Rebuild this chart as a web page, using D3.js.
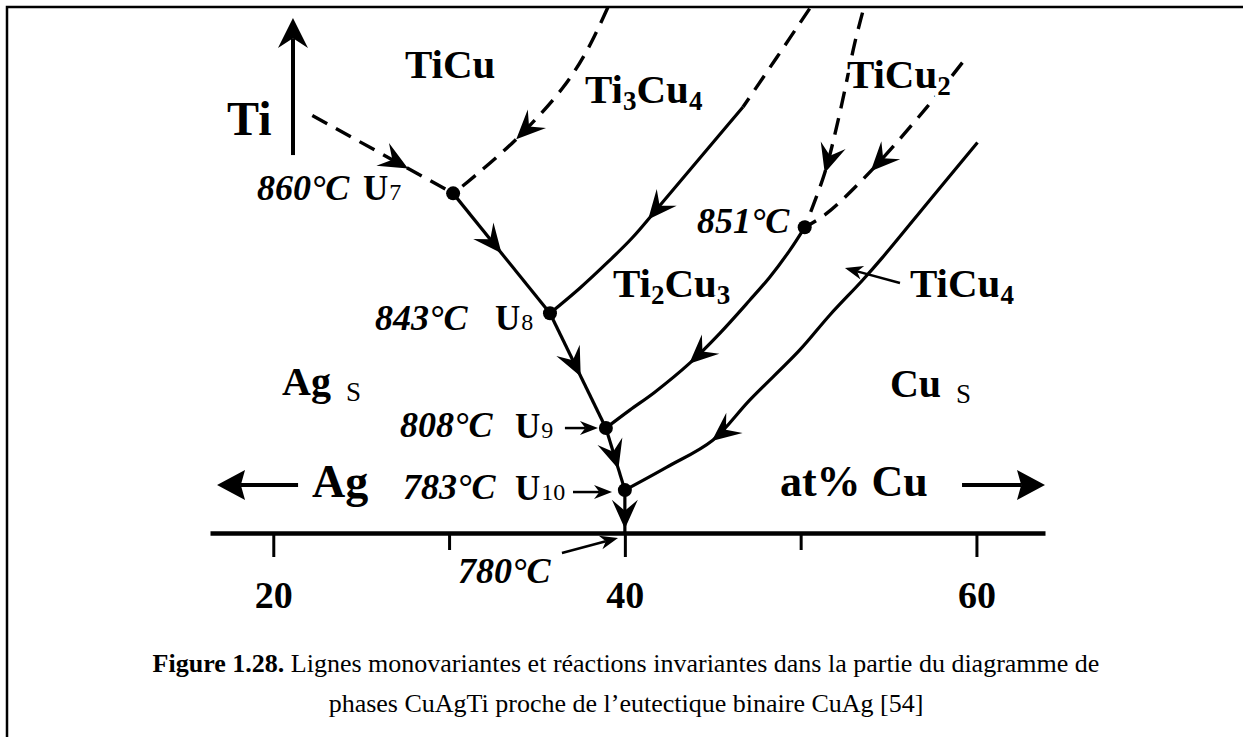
<!DOCTYPE html>
<html lang="fr">
<head>
<meta charset="UTF-8">
<title>Lignes monovariantes CuAgTi</title>
<script src="https://d3js.org/d3.v7.min.js"></script>
<style>
  body { margin: 0; background: #fff; }
  svg { display: block; font-family: "Liberation Serif", "Times New Roman", serif; }
  text { fill: #000; }
</style>
</head>
<body>
<svg id="chart" width="1243" height="737"></svg>
<script>
// x = at% Cu, y = height towards Ti (same units as x)
const cuTicks = [20, 30, 40, 50, 60];
const cuTickLabels = ["20", "", "40", "", "60"];

// invariant reactions U7..U10
const invNames = ["U7", "U8", "U9", "U10"];
const invTemps = ["860°C", "843°C", "808°C", "783°C"];
const invCu = [30.23, 35.74, 38.92, 40.0];
const invTi = [19.32, 12.50, 5.97, 2.44];
const eutectic = [40.0, 0];           // binary CuAg eutectic, 780°C
const point851 = [50.23, 17.39];

// monovariant lines, [at% Cu, Ti]
const lineTiTiCu = [[22.22, 23.75], [30.23, 19.32]];
const lineTiCuTi3Cu4 = [[39.03, 29.89], [37.84, 27.44], [36.48, 25.34], [33.86, 22.44], [31.02, 19.94], [30.23, 19.32]];
const lineTi3Cu4Ti2Cu3Top = [[50.51, 29.83], [48.64, 27.05], [46.72, 24.23]];
const lineTi3Cu4Ti2Cu3 = [[46.72, 24.23], [44.27, 21.33], [42.11, 18.77], [40.41, 16.78], [39.04, 15.42], [37.45, 13.94], [35.74, 12.50]];
const lineTiCu2Left = [[53.52, 29.60], [53.07, 27.84], [52.22, 23.86], [51.36, 20.45], [50.23, 17.39]];
const lineTiCu2Right = [[59.20, 26.76], [57.16, 24.20], [54.03, 20.63], [51.48, 18.18], [50.23, 17.39]];
const line851U9 = [[50.23, 17.39], [49.38, 16.08], [48.24, 14.55], [47.10, 13.24], [45.40, 11.36], [43.69, 9.66], [41.70, 8.01], [40.28, 6.99], [38.92, 5.97]];
const lineTiCu4 = [[60.06, 22.22], [57.33, 18.92], [54.66, 15.68], [53.52, 14.38], [51.65, 12.39], [49.94, 10.40], [47.10, 7.56], [45.0, 5.28], [42.39, 3.75], [40.0, 2.44]];

// labels
const phaseNames = ["TiCu", "Ti3Cu4", "TiCu2", "Ti2Cu3", "TiCu4"];
const phaseCu = [27.49, 37.73, 52.63, 39.32, 56.22];
const phaseTi = [25.88, 24.46, 25.31, 13.42, 13.42];
const ssNames = ["Ag", "Cu"];
const ssCu = [20.50, 55.08];
const ssTi = [7.85, 7.74];
const tempCu = [19.07, 25.79, 27.21, 27.38];
const tempTi = [18.94, 11.55, 5.46, 1.93];
const uCu = [25.10, 32.61, 33.75, 33.75];
const uTi = [18.94, 11.55, 5.40, 1.88];

const W = 1243, H = 737;
const svg = d3.select("#chart");

const x = d3.scaleLinear().domain([16.4, 63.9]).range([210, 1045]);
const k = 835 / 47.5;
const y = d3.scaleLinear().domain([0, 30]).range([533, 533 - 30 * k]);

// frame
svg.append("path")
  .attr("d", `M${W + 5},7 H7 V${H + 5}`)
  .attr("fill", "none").attr("stroke", "#000").attr("stroke-width", 2.5);

const marks = svg.append("g");

function stealth(len, wid, notch) {
  return `M0,0 L${-len},${-wid / 2} L${-len * notch},0 L${-len},${wid / 2} Z`;
}

function headAt(px, py, ang, len, wid, notch) {
  marks.append("path")
    .attr("d", stealth(len, wid, notch))
    .attr("transform", `translate(${px},${py}) rotate(${ang})`)
    .attr("fill", "#000");
}

const line = d3.line().x(d => x(d[0])).y(d => y(d[1])).curve(d3.curveCatmullRom.alpha(0.5));

function drawLine(pts, dashed, arrowT) {
  const p = marks.append("path")
    .attr("d", line(pts))
    .attr("fill", "none")
    .attr("stroke", "#000")
    .attr("stroke-width", dashed ? 3.4 : 3.2)
    .attr("stroke-dasharray", dashed ? "17,10" : null);
  if (arrowT != null) {
    const node = p.node();
    const L = node.getTotalLength();
    const a = node.getPointAtLength(arrowT * L);
    const b = node.getPointAtLength(Math.max(0, arrowT * L - 2));
    const ang = Math.atan2(a.y - b.y, a.x - b.x) * 180 / Math.PI;
    headAt(a.x, a.y, ang, 29, 26, 0.62);
  }
}

function straightArrow(c0, t0, c1, t1, sw, len, wid, notch) {
  const x0 = x(c0), y0 = y(t0), x1 = x(c1), y1 = y(t1);
  const ang = Math.atan2(y1 - y0, x1 - x0);
  marks.append("line")
    .attr("x1", x0).attr("y1", y0)
    .attr("x2", x1 - Math.cos(ang) * len * notch).attr("y2", y1 - Math.sin(ang) * len * notch)
    .attr("stroke", "#000").attr("stroke-width", sw);
  headAt(x1, y1, ang * 180 / Math.PI, len, wid, notch);
}

// axis
const axis = d3.axisBottom(x)
  .tickValues(cuTicks)
  .tickSizeInner(24)
  .tickSizeOuter(0)
  .tickFormat((d, i) => cuTickLabels[i]);

const ax = svg.append("g")
  .attr("transform", `translate(0,${y(0)})`)
  .call(axis)
  .attr("font-family", null).attr("font-size", null);
ax.select(".domain").attr("stroke-width", 4.5);
ax.selectAll(".tick line")
  .attr("stroke-width", 3)
  .attr("y2", (d, i) => cuTickLabels[i] ? 24 : 17);
ax.selectAll(".tick text")
  .attr("y", 75).attr("dy", null)
  .attr("fill", "#000")
  .attr("font-size", 38).attr("font-weight", "bold");

// monovariant lines
drawLine(lineTiTiCu, true, 0.68);
drawLine(lineTiCuTi3Cu4, true, 0.66);
drawLine(lineTi3Cu4Ti2Cu3Top, true, null);
drawLine(lineTi3Cu4Ti2Cu3, false, 0.52);
drawLine(lineTiCu2Left, true, 0.74);
drawLine(lineTiCu2Right, true, 0.62);
drawLine(line851U9, false, 0.63);
drawLine(lineTiCu4, false, 0.80);

// eutectic valley U7 -> U8 -> U9 -> U10 -> E
const valley = invCu.map((c, i) => [c, invTi[i]]).concat([eutectic]);
const valleyT = [0.5, 0.55, 0.66, 0.9];
for (let i = 0; i < valley.length - 1; i++) {
  drawLine([valley[i], valley[i + 1]], false, valleyT[i]);
}

// invariant points
marks.selectAll("circle.inv")
  .data(valley.slice(0, 4).concat([point851]))
  .join("circle")
  .attr("class", "inv")
  .attr("cx", d => x(d[0])).attr("cy", d => y(d[1]))
  .attr("r", 7).attr("fill", "#000");

// annotation arrows
straightArrow(21.12, 21.50, 21.12, 29.29, 4, 30, 30, 0.67);   // Ti
straightArrow(21.41, 2.73, 16.80, 2.73, 4, 28, 30, 0.85);     // Ag
straightArrow(59.18, 2.73, 63.90, 2.73, 4, 28, 30, 0.85);     // Cu
straightArrow(36.59, 5.97, 38.47, 5.97, 2.5, 18, 14, 0.7);    // U9
straightArrow(37.05, 2.33, 39.27, 2.33, 2.5, 18, 14, 0.7);    // U10
straightArrow(36.42, -1.14, 39.61, -0.28, 2.5, 18, 14, 0.7);  // 780
straightArrow(55.65, 14.22, 52.52, 15.07, 2.5, 18, 14, 0.7);  // TiCu4 leader

const labels = svg.append("g");

function subText(cu, ti, name, size) {
  const t = labels.append("text")
    .attr("x", x(cu)).attr("y", y(ti))
    .attr("font-size", size).attr("font-weight", "bold")
    .attr("stroke", "#fff").attr("stroke-width", 7)
    .attr("paint-order", "stroke");
  let shift = 0;
  name.split(/(\d+)/).filter(s => s).forEach(s => {
    const sub = /^\d+$/.test(s);
    const target = sub ? size * 0.16 : 0;
    t.append("tspan")
      .attr("dy", target - shift)
      .attr("font-size", sub ? size * 0.66 : size)
      .text(s);
    shift = target;
  });
}

phaseNames.forEach((n, i) => subText(phaseCu[i], phaseTi[i], n, 41));

ssNames.forEach((n, i) => {
  const t = labels.append("text")
    .attr("x", x(ssCu[i])).attr("y", y(ssTi[i]))
    .attr("font-size", 40).attr("font-weight", "bold");
  t.append("tspan").text(n);
  t.append("tspan").attr("dx", 15).attr("dy", 6)
    .attr("font-size", 27).attr("font-weight", "normal").text("S");
});

labels.append("text")
  .attr("x", x(17.37)).attr("y", y(22.64))
  .attr("font-size", 48).attr("font-weight", "bold").text("Ti");
labels.append("text")
  .attr("x", x(22.20)).attr("y", y(2.05))
  .attr("font-size", 46).attr("font-weight", "bold").text("Ag");
labels.append("text")
  .attr("x", x(48.82)).attr("y", y(2.10))
  .attr("font-size", 44).attr("font-weight", "bold").text("at% Cu");

// temperatures
const temps = invTemps.map((s, i) => [s, tempCu[i], tempTi[i]])
  .concat([["851°C", 44.10, 17.06], ["780°C", 30.51, -2.84]]);
labels.selectAll("text.temp")
  .data(temps)
  .join("text")
  .attr("class", "temp")
  .attr("x", d => x(d[1])).attr("y", d => y(d[2]))
  .attr("font-size", 36).attr("font-weight", "bold").attr("font-style", "italic")
  .text(d => d[0]);

// U labels
invNames.forEach((n, i) => {
  const t = labels.append("text")
    .attr("x", x(uCu[i])).attr("y", y(uTi[i]));
  t.append("tspan").attr("font-size", 35).attr("font-weight", "bold").text("U");
  t.append("tspan").attr("font-size", 24).attr("dx", 1).text(n.slice(1));
});

// caption
const cap = svg.append("g").attr("font-size", 26);
const c1 = cap.append("text").attr("x", 626).attr("y", 672).attr("text-anchor", "middle");
c1.append("tspan").attr("font-weight", "bold").text("Figure 1.28.");
c1.append("tspan").text(" Lignes monovariantes et réactions invariantes dans la partie du diagramme de");
cap.append("text").attr("x", 626).attr("y", 712).attr("text-anchor", "middle")
  .text("phases CuAgTi proche de l’eutectique binaire CuAg [54]");
</script>
</body>
</html>
